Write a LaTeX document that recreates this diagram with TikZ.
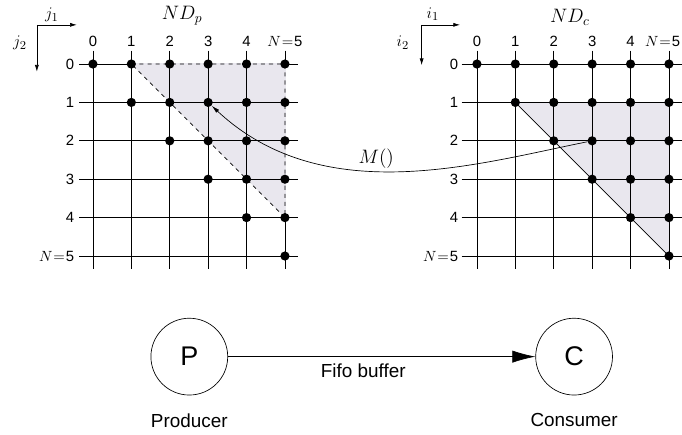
\documentclass[tikz,border=0pt]{standalone}
\usepackage{fontspec}
\setmainfont{Liberation Sans}
\usetikzlibrary{arrows.meta,positioning}
\definecolor{shadegray}{RGB}{233,231,238}

\begin{document}
\begin{tikzpicture}[
    dot/.style={circle,fill=black,inner sep=0pt,minimum size=2.4mm},
    tick/.style={font=\fontsize{11}{13}\selectfont,inner sep=1pt},
    axis/.style={-{Latex[length=5pt,width=3pt]},line width=0.5pt},
    gridline/.style={line width=0.6pt},
    proc/.style={draw,circle,minimum size=2cm,line width=0.5pt,font=\fontsize{20}{24}\selectfont}]
  \useasboundingbox (-2.42,1.667) rectangle (15.34,-9.635);
  % shaded domains
  \fill[shadegray] (1,0) -- (5,0) -- (5,-4) -- cycle;
  \fill[shadegray] (11,-1) -- (15,-1) -- (15,-5) -- cycle;
  % the two grids
  \foreach \k in {0,...,5} {
    \draw[gridline] (-0.35,-\k) -- (5.35,-\k);
    \draw[gridline] (\k,0.35) -- (\k,-5.35);
    \draw[gridline] (9.6,-\k) -- (15.4,-\k);
    \draw[gridline] (10+\k,0.35) -- (10+\k,-5.35);
  }
  \draw[shadegray,line width=1.2pt] (1.1,0) -- (5,0) -- (5,-3.9);
  \draw[dashed,line width=0.5pt] (1,0) -- (5,0) -- (5,-4) -- cycle;
  \draw[line width=0.5pt] (11,-1) -- (15,-5);
  % axis numbers
  \foreach \k in {0,...,4} {
    \node[tick] (pcol\k) at (\k,0.6) {\k};
    \node[tick,anchor=east] (prow\k) at (-0.45,-\k) {\k};
    \node[tick] (ccol\k) at (10+\k,0.6) {\k};
    \node[tick,anchor=east] (crow\k) at (9.55,-\k) {\k};
  }
  \node[tick] (pcol5) at (5,0.6) {$N\mkern1mu{=}\mkern1mu$5};
  \node[tick,anchor=east] (prow5) at (-0.45,-5) {$N\mkern1mu{=}\mkern1mu$5};
  \node[tick,anchor=east] (ccol5) at (15.33,0.6) {$N\mkern1mu{=}\mkern1mu$5};
  \node[tick,anchor=east] (crow5) at (9.55,-5) {$N\mkern1mu{=}\mkern1mu$5};
  % iteration points
  \foreach \a in {0,...,5}
    \foreach \b in {0,...,\a} {
      \node[dot] (p-\a-\b) at (\a,-\b) {};
      \node[dot] (c-\a-\b) at (10+\a,-\b) {};
    }
  % direction arrows and titles
  \coordinate (pax) at (-1.46,1.02);
  \coordinate (paxr) at (-0.42,1.02);
  \coordinate (paxd) at (-1.46,-0.2);
  \coordinate (cax) at (8.56,1.02);
  \coordinate (caxr) at (9.56,1.02);
  \coordinate (caxd) at (8.56,-0.03);
  \draw[axis] (pax) -- (paxr);
  \draw[axis] (pax) -- (paxd);
  \draw[axis] (cax) -- (caxr);
  \draw[axis] (cax) -- (caxd);
  \node[font=\fontsize{12.5}{15}\selectfont] (pj1) at (-1.07,1.27) {$j_1$};
  \node[font=\fontsize{12.5}{15}\selectfont] (pj2) at (-1.9,0.55) {$j_2$};
  \node[font=\fontsize{12.5}{15}\selectfont] (ci1) at (8.85,1.29) {$i_1$};
  \node[font=\fontsize{12.5}{15}\selectfont] (ci2) at (8.07,0.55) {$i_2$};
  \node[font=\Large] (ndp) at (2.32,1.25) {$ND_p$};
  \node[font=\Large] (ndc) at (12.42,1.22) {$ND_c$};
  % mapping
  \draw[-{Latex[length=6pt,width=3pt]},line width=0.5pt] (c-3-2) .. controls +(-3,-0.6) and +(3,-2.8) .. (p-3-1)
    node[pos=0.56,above=-2pt,font=\Large] (mlbl) {$M()$};
  % producer / consumer
  \node[proc] (prod) at (2.51,-7.62) {P};
  \node[proc] (cons) at (12.53,-7.62) {C};
  \draw[-{Latex[length=0.6cm,width=0.32cm]},line width=0.5pt] (prod) -- (cons)
    node[pos=0.44,below=2pt,font=\fontsize{14}{17}\selectfont] (fifo) {Fifo buffer};
  \node[font=\fontsize{14}{17}\selectfont,below=0.35cm of prod] (prodlbl) {Producer};
  \node[font=\fontsize{14}{17}\selectfont,below=0.35cm of cons] (conslbl) {Consumer};
\end{tikzpicture}
\end{document}
